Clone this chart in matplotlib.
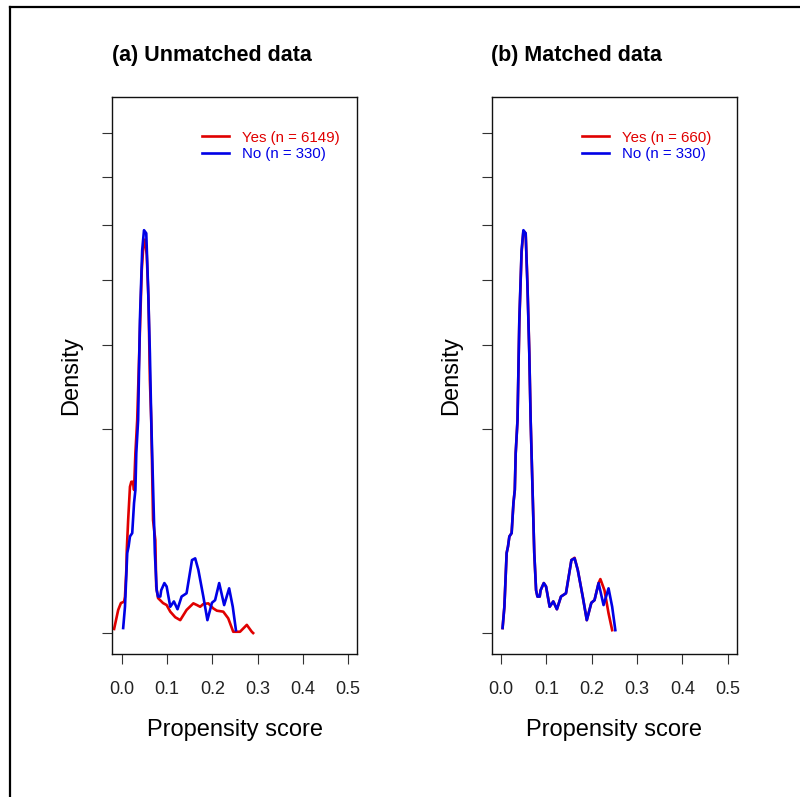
import numpy as np
import matplotlib.pyplot as plt
from matplotlib.lines import Line2D

plt.rcParams['font.family'] = ['Liberation Sans', 'DejaVu Sans']

# propensity score densities
ps_no = [0.003, 0.007, 0.012, 0.015, 0.018, 0.023, 0.027, 0.030, 0.032, 0.036,
         0.040, 0.045, 0.049, 0.054, 0.058, 0.062, 0.065, 0.073, 0.077, 0.080,
         0.085, 0.087, 0.094, 0.099, 0.107, 0.115, 0.123, 0.132, 0.143, 0.155,
         0.162, 0.169, 0.180, 0.189, 0.199, 0.206, 0.215, 0.226, 0.237, 0.245,
         0.252]
dens_no = [0.003, 0.083, 0.77, 0.90, 1.12, 1.20, 2.03, 2.46, 3.89, 5.45,
           11.8, 17.6, 19.5, 19.2, 14.4, 9.4, 5.45, 0.77, 0.22, 0.16,
           0.16, 0.22, 0.30, 0.26, 0.083, 0.12, 0.068, 0.16, 0.19, 0.64,
           0.67, 0.48, 0.16, 0.02, 0.11, 0.13, 0.30, 0.094, 0.24, 0.083,
           0.001]

ps_yes_unmatched = [-0.017, -0.008, -0.002, 0.005, 0.007, 0.010, 0.011, 0.014, 0.018, 0.021,
                    0.025, 0.027, 0.030, 0.034, 0.040, 0.044, 0.048, 0.051, 0.055, 0.059,
                    0.062, 0.065, 0.069, 0.074, 0.076, 0.080, 0.091, 0.099, 0.107, 0.118,
                    0.129, 0.143, 0.158, 0.166, 0.173, 0.180, 0.191, 0.202, 0.210, 0.224,
                    0.235, 0.246, 0.261, 0.276, 0.287, 0.290]
dens_yes_unmatched = [0.002, 0.064, 0.108, 0.118, 0.158, 0.477, 0.83, 1.53, 2.57, 2.75,
                      2.75, 2.46, 3.89, 5.45, 11.0, 15.8, 18.3, 18.6, 17.2, 13.3,
                      7.7, 5.45, 1.53, 1.04, 0.26, 0.147, 0.108, 0.094, 0.055, 0.03,
                      0.020, 0.064, 0.106, 0.094, 0.083, 0.101, 0.106, 0.073, 0.060, 0.055,
                      0.026, 0.0002, 0.0002, 0.008, 0.0002, 0.0]

ps_yes_matched = [0.003, 0.007, 0.012, 0.015, 0.018, 0.023, 0.027, 0.030, 0.032, 0.036,
                  0.040, 0.045, 0.049, 0.054, 0.058, 0.062, 0.065, 0.073, 0.077, 0.080,
                  0.085, 0.087, 0.094, 0.099, 0.107, 0.115, 0.123, 0.132, 0.143, 0.155,
                  0.162, 0.169, 0.180, 0.189, 0.199, 0.206, 0.215, 0.219, 0.228, 0.237,
                  0.245]
dens_yes_matched = [0.003, 0.083, 0.77, 0.90, 1.12, 1.20, 2.03, 2.46, 3.89, 5.45,
                    11.6, 17.4, 19.4, 19.2, 14.6, 9.5, 5.45, 0.77, 0.22, 0.16,
                    0.16, 0.22, 0.30, 0.26, 0.083, 0.12, 0.068, 0.16, 0.19, 0.64,
                    0.68, 0.48, 0.16, 0.02, 0.11, 0.13, 0.30, 0.35, 0.22, 0.047,
                    0.001]

density_ticks = [0, 5, 10, 15, 20, 25, 30]
score_ticks = [0.0, 0.1, 0.2, 0.3, 0.4, 0.5]
titles = ['(a) Unmatched data', '(b) Matched data']
yes_labels = ['Yes (n = 6149)', 'Yes (n = 660)']
no_label = 'No (n = 330)'

RED = '#e00000'
BLUE = '#0000e6'
W, H = 800, 797

fig = plt.figure(figsize=(W / 100, H / 100), dpi=100)


def fx(px):
    return px / W


def fy(py):
    return 1 - py / H


# frame around the whole plot (clipped at the right/bottom edge)
fig.add_artist(Line2D([fx(10.3), fx(W + 5)], [fy(6.7), fy(6.7)], color='black', lw=1.6))
fig.add_artist(Line2D([fx(10.3), fx(10.3)], [fy(6.7), fy(H + 5)], color='black', lw=1.6))


def panel(left, title, ps_yes, dens_yes, yes_label, legend_x):
    ax = fig.add_axes([fx(left), fy(654.3), 245.0 / W, 557.6 / H])
    # density is drawn on a square-root scale
    ax.plot(ps_yes, np.sqrt(dens_yes), color=RED, lw=1.9, label=yes_label)
    ax.plot(ps_no, np.sqrt(dens_no), color=BLUE, lw=1.9, label=no_label)
    ax.set_xlim(-0.021, 0.52)
    ax.set_ylim(-0.233, 5.879)
    ax.set_xticks(score_ticks)
    ax.set_xticklabels([f'{t:.1f}' for t in score_ticks])
    ax.set_yticks(np.sqrt(density_ticks))
    ax.set_yticklabels([])
    ax.tick_params(direction='out', length=7.5, width=0.8, colors='#333333',
                   labelsize=13, pad=12, labelcolor='#222222')
    for sp in ax.spines.values():
        sp.set_linewidth(1.0)
        sp.set_color('#111111')
    leg = ax.legend(loc='upper left', bbox_to_anchor=(legend_x, 0.939), frameon=False,
                    fontsize=10.8, handlelength=1.8, handletextpad=0.85,
                    labelspacing=0.14, borderpad=0, borderaxespad=0,
                    labelcolor='linecolor')
    for ln in leg.get_lines():
        ln.set_linewidth(1.9)
    fig.text(fx(left - 0.8), fy(61), title, ha='left', va='baseline',
             fontsize=15.5, fontweight='bold')
    fig.text(fx(left + 122.5), fy(736), 'Propensity score', ha='center', va='baseline',
             fontsize=17)
    fig.text(fx(left - 41), fy(376), 'Density', ha='center', va='center',
             rotation=90, fontsize=17)
    return ax


panel(112.3, titles[0], ps_yes_unmatched, dens_yes_unmatched, yes_labels[0], 0.366)
panel(491.7, titles[1], ps_yes_matched, dens_yes_matched, yes_labels[1], 0.368)

fig.savefig('out.png', dpi=100)
